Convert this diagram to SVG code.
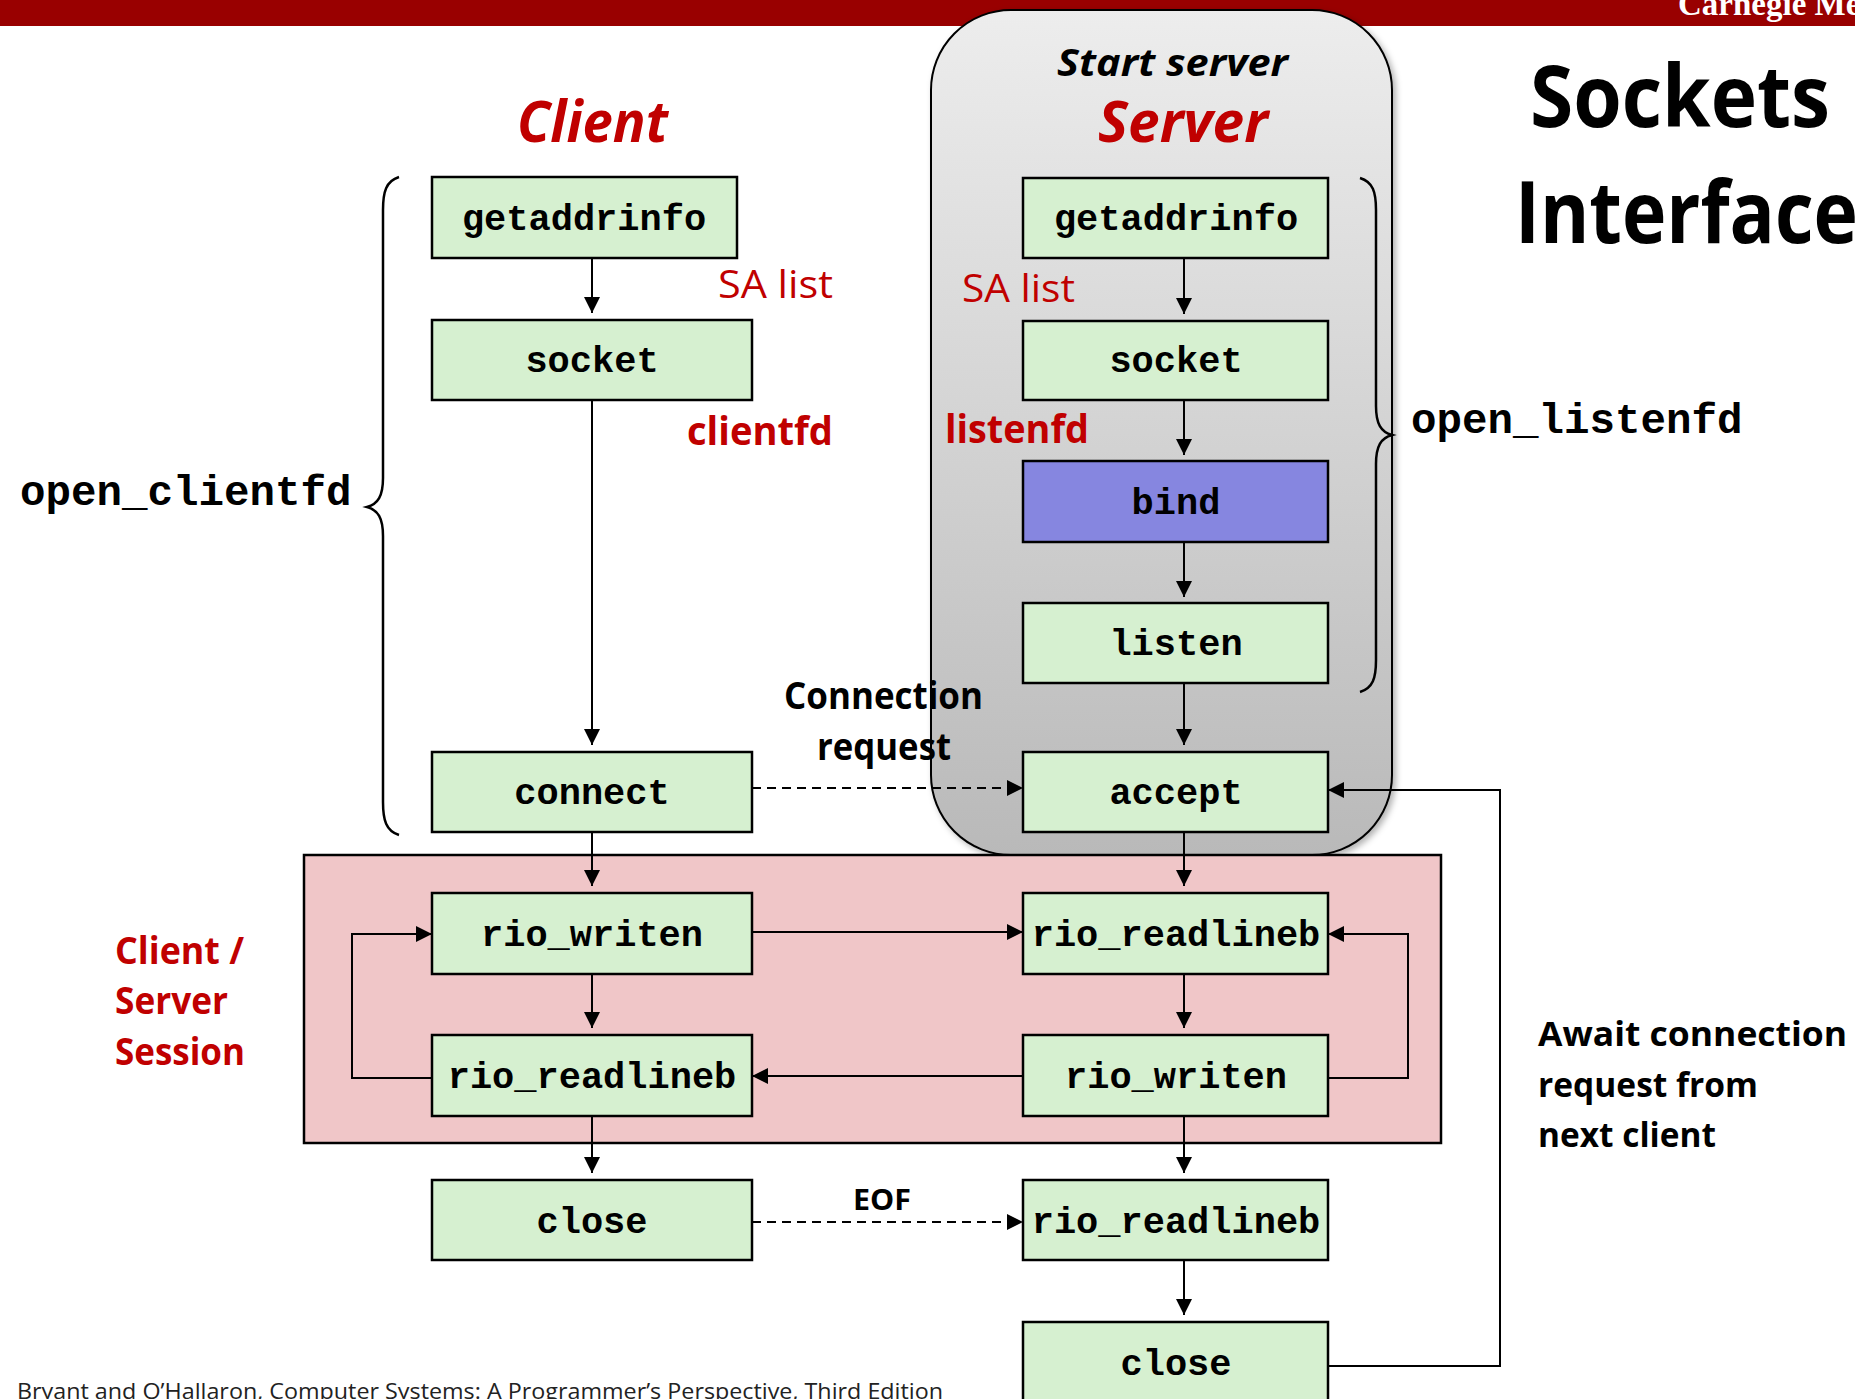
<svg xmlns="http://www.w3.org/2000/svg" width="1855" height="1399" viewBox="0 0 1855 1399">
  <defs>
    <linearGradient id="grayGrad" x1="0" y1="0" x2="0" y2="1">
      <stop offset="0" stop-color="#ededed"/>
      <stop offset="1" stop-color="#b9b9b9"/>
    </linearGradient>
    <filter id="shadow" x="-10%" y="-10%" width="120%" height="120%">
      <feDropShadow dx="3" dy="3" stdDeviation="3" flood-color="#000" flood-opacity="0.3"/>
    </filter>
    <marker id="arrow" viewBox="0 0 16 16" refX="16" refY="8" markerWidth="16" markerHeight="16" markerUnits="userSpaceOnUse" orient="auto">
      <path d="M0,0 L16,8 L0,16 z" fill="#000"/>
    </marker>
    <style>
      .box { fill: #d6f0d0; stroke: #000; stroke-width: 2.5; }
      .bind { fill: #8686e0; stroke: #000; stroke-width: 2.5; }
      .code { font-family: "Liberation Mono", "Courier New", monospace; font-weight: bold; font-size: 37px; fill: #000; text-anchor: middle; }
      .bigcode { font-family: "Liberation Mono", "Courier New", monospace; font-weight: bold; font-size: 42.5px; fill: #000; }
      .sans { font-family: "Open Sans", "Lato", sans-serif; }
      .red { fill: #c00000; }
      .bold { font-weight: bold; }
      .conn { fill: none; stroke: #000; stroke-width: 2; }
      .arr { marker-end: url(#arrow); }
      .dash { stroke-dasharray: 9 6; }
    </style>
  </defs>

  <!-- top bar -->
  <rect x="0" y="0" width="1855" height="26" fill="#990000"/>
  <text x="1678" y="15" font-family="Liberation Serif, Times New Roman, serif" font-weight="bold" font-size="33" fill="#fff">Carnegie Mellon</text>

  <!-- server region -->
  <g id="server-region">
    <rect x="931" y="10" width="461" height="845" rx="80" ry="80" fill="url(#grayGrad)" stroke="#000" stroke-width="2" filter="url(#shadow)"/>
    <text class="sans bold" x="1057" y="76" font-size="38" font-style="italic" textLength="231" lengthAdjust="spacingAndGlyphs">Start server</text>
  </g>

  <!-- session region -->
  <g id="session-region">
    <rect x="304" y="855" width="1137" height="288" fill="#f0c6c8" stroke="#000" stroke-width="2.5"/>
  </g>

  <!-- titles -->
  <g id="title">
    <text class="sans bold" x="1530" y="127" font-size="86" textLength="300" lengthAdjust="spacingAndGlyphs">Sockets</text>
    <text class="sans bold" x="1515" y="243" font-size="86" textLength="343" lengthAdjust="spacingAndGlyphs">Interface</text>
  </g>
  <text class="sans bold red" x="517" y="142" font-size="57" font-style="italic" textLength="151" lengthAdjust="spacingAndGlyphs">Client</text>
  <text class="sans bold red" x="1098" y="142" font-size="57" font-style="italic" textLength="170" lengthAdjust="spacingAndGlyphs">Server</text>

  <!-- braces -->
  <g id="brace-client">
    <path d="M399,177 C386,181 383,192 383,210 V478 C383,496 378,504 367,507 C378,510 383,518 383,536 V802 C383,820 386,831 399,835" fill="none" stroke="#000" stroke-width="2.5"/>
    <text class="bigcode" x="20" y="505">open_clientfd</text>
  </g>
  <g id="brace-server">
    <path d="M1360,178 C1373,182 1376,192 1376,210 V406 C1376,424 1381,432 1392,435 C1381,438 1376,446 1376,464 V660 C1376,678 1373,688 1360,692" fill="none" stroke="#000" stroke-width="2.5"/>
    <text class="bigcode" x="1411" y="433">open_listenfd</text>
  </g>

  <!-- labels -->
  <text class="sans red" x="718" y="298" font-size="39" textLength="115" lengthAdjust="spacingAndGlyphs">SA list</text>
  <text class="sans red" x="962" y="302" font-size="39" textLength="113" lengthAdjust="spacingAndGlyphs">SA list</text>
  <text class="sans bold red" x="687" y="445" font-size="40" textLength="146" lengthAdjust="spacingAndGlyphs">clientfd</text>
  <text class="sans bold red" x="945" y="443" font-size="40" textLength="144" lengthAdjust="spacingAndGlyphs">listenfd</text>
  <text class="sans bold" x="784" y="709" font-size="37" textLength="199" lengthAdjust="spacingAndGlyphs">Connection</text>
  <text class="sans bold" x="817" y="760" font-size="37" textLength="134" lengthAdjust="spacingAndGlyphs">request</text>
  <text class="sans bold" x="853" y="1210" font-size="28" textLength="58" lengthAdjust="spacingAndGlyphs">EOF</text>
  <g id="session-label">
    <text class="sans bold red" x="115" y="964" font-size="37" textLength="129" lengthAdjust="spacingAndGlyphs">Client /</text>
    <text class="sans bold red" x="115" y="1014" font-size="37" textLength="113" lengthAdjust="spacingAndGlyphs">Server</text>
    <text class="sans bold red" x="115" y="1065" font-size="37" textLength="130" lengthAdjust="spacingAndGlyphs">Session</text>
  </g>
  <g id="await-label">
    <text class="sans bold" x="1538" y="1046" font-size="34" textLength="309" lengthAdjust="spacingAndGlyphs">Await connection</text>
    <text class="sans bold" x="1538" y="1097" font-size="34" textLength="220" lengthAdjust="spacingAndGlyphs">request from</text>
    <text class="sans bold" x="1538" y="1147" font-size="34" textLength="178" lengthAdjust="spacingAndGlyphs">next client</text>
  </g>
  <text class="sans" x="17" y="1399" font-size="21" fill="#222" textLength="926" lengthAdjust="spacingAndGlyphs">Bryant and O’Hallaron, Computer Systems: A Programmer’s Perspective, Third Edition</text>

  <!-- connectors -->
  <g id="connectors">
    <path class="conn arr" d="M592,258 V313"/>
    <path class="conn arr" d="M592,400 V745"/>
    <path class="conn arr" d="M592,832 V886"/>
    <path class="conn arr" d="M592,974 V1028"/>
    <path class="conn arr" d="M592,1116 V1173"/>
    <path class="conn arr" d="M1184,258 V314"/>
    <path class="conn arr" d="M1184,400 V455"/>
    <path class="conn arr" d="M1184,542 V597"/>
    <path class="conn arr" d="M1184,683 V745"/>
    <path class="conn arr" d="M1184,832 V886"/>
    <path class="conn arr" d="M1184,974 V1028"/>
    <path class="conn arr" d="M1184,1116 V1173"/>
    <path class="conn arr" d="M1184,1260 V1315"/>
    <path class="conn arr dash" d="M752,788 H1023"/>
    <path class="conn arr" d="M752,932 H1023"/>
    <path class="conn arr" d="M1023,1076 H752"/>
    <path class="conn arr" d="M432,1078 H352 V934 H432"/>
    <path class="conn arr" d="M1328,1078 H1408 V934 H1328"/>
    <path class="conn arr dash" d="M752,1222 H1023"/>
    <path class="conn arr" d="M1327,1366 H1500 V790 H1328"/>
  </g>

  <!-- client nodes -->
  <g id="c-getaddrinfo"><rect class="box" x="432" y="177" width="305" height="81"/><text class="code" x="584" y="230">getaddrinfo</text></g>
  <g id="c-socket"><rect class="box" x="432" y="320" width="320" height="80"/><text class="code" x="592" y="372">socket</text></g>
  <g id="c-connect"><rect class="box" x="432" y="752" width="320" height="80"/><text class="code" x="592" y="804">connect</text></g>
  <g id="c-rio-writen"><rect class="box" x="432" y="893" width="320" height="81"/><text class="code" x="592" y="946">rio_writen</text></g>
  <g id="c-rio-readlineb"><rect class="box" x="432" y="1035" width="320" height="81"/><text class="code" x="592" y="1088">rio_readlineb</text></g>
  <g id="c-close"><rect class="box" x="432" y="1180" width="320" height="80"/><text class="code" x="592" y="1233">close</text></g>

  <!-- server nodes -->
  <g id="s-getaddrinfo"><rect class="box" x="1023" y="178" width="305" height="80"/><text class="code" x="1176" y="230">getaddrinfo</text></g>
  <g id="s-socket"><rect class="box" x="1023" y="321" width="305" height="79"/><text class="code" x="1176" y="372">socket</text></g>
  <g id="s-bind"><rect class="bind" x="1023" y="461" width="305" height="81"/><text class="code" x="1176" y="514">bind</text></g>
  <g id="s-listen"><rect class="box" x="1023" y="603" width="305" height="80"/><text class="code" x="1176" y="655">listen</text></g>
  <g id="s-accept"><rect class="box" x="1023" y="752" width="305" height="80"/><text class="code" x="1176" y="804">accept</text></g>
  <g id="s-rio-readlineb"><rect class="box" x="1023" y="893" width="305" height="81"/><text class="code" x="1176" y="946">rio_readlineb</text></g>
  <g id="s-rio-writen"><rect class="box" x="1023" y="1035" width="305" height="81"/><text class="code" x="1176" y="1088">rio_writen</text></g>
  <g id="s-rio-readlineb2"><rect class="box" x="1023" y="1180" width="305" height="80"/><text class="code" x="1176" y="1233">rio_readlineb</text></g>
  <g id="s-close"><rect class="box" x="1023" y="1322" width="305" height="82"/><text class="code" x="1176" y="1375">close</text></g>
</svg>
